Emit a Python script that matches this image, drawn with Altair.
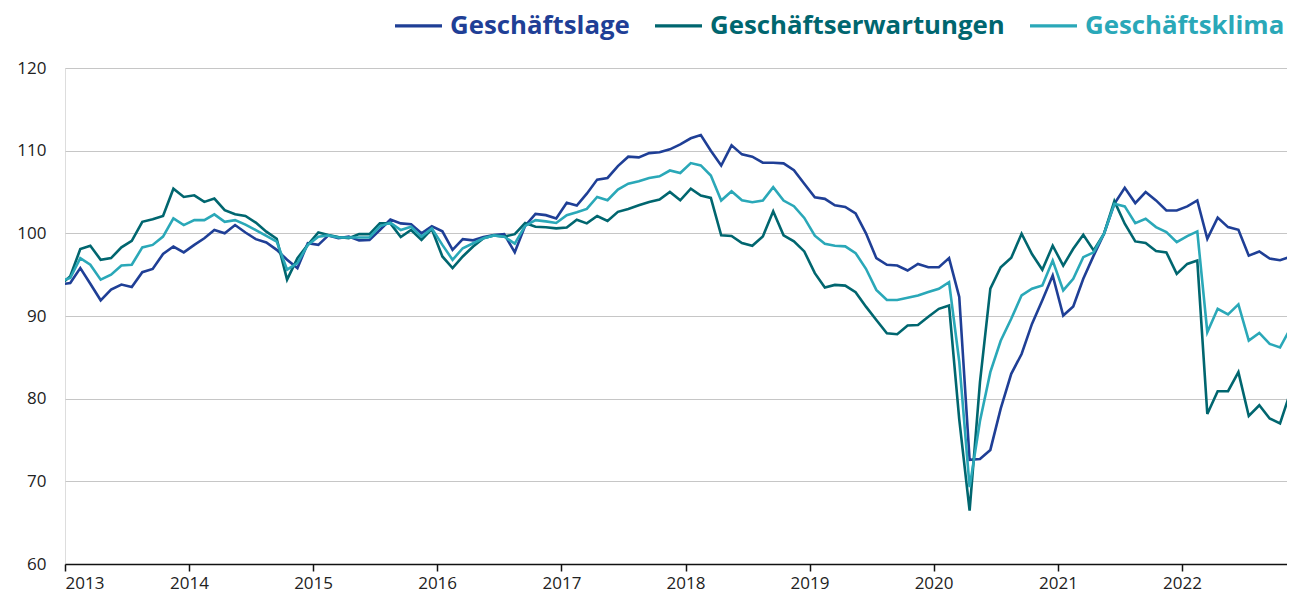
import altair as alt
import pandas as pd

# Monthly values, Dec 2012 .. Dec 2022 (mid-month positions)
lage = [93.8,
    94.0, 95.8, 93.9, 91.9, 93.2, 93.8, 93.5, 95.3, 95.7, 97.5, 98.4, 97.7,
    98.6, 99.4, 100.4, 100.0, 101.0, 100.1, 99.3, 98.9, 98.0, 96.8, 95.8, 98.8,
    98.6, 99.75, 99.4, 99.6, 99.15, 99.2, 100.4, 101.66, 101.2, 101.1, 100.0, 100.85,
    100.24, 98.0, 99.3, 99.15, 99.55, 99.8, 99.9, 97.7, 100.9, 102.35, 102.2, 101.8,
    103.7, 103.36, 104.8, 106.5, 106.7, 108.14, 109.27, 109.19, 109.7, 109.8, 110.16, 110.77,
    111.5, 111.9, 110.0, 108.2, 110.65, 109.55, 109.27, 108.54, 108.54, 108.46, 107.65, 105.99,
    104.37, 104.17, 103.4, 103.2, 102.4, 100.0, 97.0, 96.2, 96.1, 95.5, 96.3, 95.9,
    95.9, 97.0, 92.3, 72.6, 72.7, 73.8, 78.8, 83.0, 85.4, 89.05, 91.9, 94.9,
    90.06, 91.15, 94.5, 97.3, 99.95, 103.58, 105.5, 103.66, 104.99, 103.98, 102.77, 102.77,
    103.26, 103.98, 99.34, 101.9, 100.75, 100.43, 97.3, 97.8, 96.95, 96.75, 97.15, 97.5]

erwartungen = [93.7,
    94.8, 98.1, 98.5, 96.8, 97.0, 98.3, 99.1, 101.4, 101.7, 102.1, 105.4, 104.4,
    104.6, 103.8, 104.2, 102.8, 102.3, 102.1, 101.3, 100.2, 99.35, 94.4, 97.0, 98.6,
    100.1, 99.8, 99.55, 99.4, 99.9, 99.9, 101.2, 101.2, 99.55, 100.4, 99.2, 100.5,
    97.2, 95.8, 97.2, 98.4, 99.4, 99.75, 99.6, 99.9, 101.25, 100.8, 100.73, 100.6,
    100.7, 101.65, 101.2, 102.1, 101.5, 102.6, 102.95, 103.4, 103.8, 104.1, 105.0, 104.0,
    105.4, 104.57, 104.29, 99.76, 99.68, 98.82, 98.5, 99.63, 102.67, 99.76, 99.03, 97.81,
    95.18, 93.44, 93.76, 93.68, 92.87, 91.13, 89.51, 87.9, 87.8, 88.85, 88.9, 89.9,
    90.87, 91.27, 77.5, 66.45, 82.0, 93.3, 95.9, 97.04, 99.95, 97.5, 95.6, 98.5,
    96.1, 98.13, 99.83, 97.93, 99.95, 103.9, 101.16, 99.02, 98.82, 97.85, 97.7, 95.1,
    96.3, 96.7, 78.15, 80.9, 80.9, 83.2, 77.9, 79.2, 77.6, 77.0, 80.8, 84.0]

klima = [94.2,
    94.6, 97.0, 96.2, 94.4, 95.0, 96.1, 96.2, 98.3, 98.6, 99.6, 101.8, 101.0,
    101.6, 101.6, 102.3, 101.4, 101.6, 101.05, 100.4, 99.7, 99.0, 95.6, 96.4, 98.6,
    99.6, 99.75, 99.5, 99.5, 99.5, 99.5, 100.85, 101.3, 100.4, 100.8, 99.6, 100.6,
    98.6, 96.8, 98.2, 98.8, 99.4, 99.75, 99.6, 98.75, 100.9, 101.6, 101.45, 101.25,
    102.2, 102.55, 102.95, 104.4, 104.0, 105.3, 106.0, 106.3, 106.7, 106.9, 107.6, 107.3,
    108.5, 108.22, 107.0, 103.97, 105.1, 104.0, 103.76, 103.97, 105.59, 103.97, 103.28, 101.86,
    99.72, 98.74, 98.5, 98.42, 97.61, 95.71, 93.16, 91.94, 91.94, 92.2, 92.48, 92.9,
    93.3, 94.1, 84.5, 69.3, 77.3, 83.2, 87.0, 89.66, 92.5, 93.3, 93.7, 96.7,
    93.1, 94.5, 97.12, 97.7, 99.95, 103.58, 103.26, 101.24, 101.76, 100.75, 100.15, 98.94,
    99.67, 100.23, 88.04, 90.87, 90.18, 91.4, 87.03, 87.96, 86.63, 86.2, 88.5, 91.0]

series_names = ["Geschäftslage", "Geschäftserwartungen", "Geschäftsklima"]
series_colors = ["#1f3f96", "#00666f", "#2aa8b8"]
year_ticks = list(range(2013, 2023))
y_ticks = [60, 70, 80, 90, 100, 110, 120]

months = pd.date_range("2012-12-01", "2022-12-01", freq="MS")
mids = months + (months + pd.offsets.MonthBegin(1) - months) / 2
date_str = [d.strftime("%Y-%m-%dT%H:%M:%S") for d in mids]

rows = []
for name, vals in zip(series_names, [lage, erwartungen, klima]):
    for d, v in zip(date_str, vals):
        rows.append({"Datum": d, "Wert": v, "Reihe": name})
df = pd.DataFrame(rows)

plot_w, plot_h = 1222, 496
start = pd.Timestamp("2013-01-01")
px_per_day = 1117 / (pd.Timestamp("2022-01-01") - start).days
end = start + pd.Timedelta(days=plot_w / px_per_day)

label_expr = ""
for n, c in zip(series_names[:-1], series_colors[:-1]):
    label_expr += f"datum.label == '{n}' ? '{c}' : "
label_expr += f"'{series_colors[-1]}'"

chart = alt.Chart(df).mark_line(strokeWidth=2.6, clip=True).encode(
    x=alt.X("Datum:T",
            scale=alt.Scale(domain=[start.strftime("%Y-%m-%dT00:00:00"),
                                    end.strftime("%Y-%m-%dT%H:%M:%S")], nice=False),
            axis=alt.Axis(title=None, values=[alt.DateTime(year=y, month=1, date=1) for y in year_ticks],
                          format="%Y", grid=False, domainColor="#111", domainWidth=1.6,
                          tickColor="#111", tickWidth=1.5, tickSize=7, labelPadding=4,
                          labelFont="Open Sans", labelFontSize=17, labelColor="#222")),
    y=alt.Y("Wert:Q",
            scale=alt.Scale(domain=[60, 120], nice=False, zero=False),
            axis=alt.Axis(title=None, values=y_ticks, grid=True, gridColor="#c6c6c6",
                          gridWidth=1, domain=False, ticks=False, labelPadding=19,
                          minExtent=57, labelFont="Open Sans", labelFontSize=17,
                          labelColor="#222")),
    color=alt.Color("Reihe:N",
                    scale=alt.Scale(domain=series_names, range=series_colors),
                    legend=alt.Legend(title=None, orient="none", legendX=328, legendY=-68,
                                      direction="horizontal", symbolType="stroke",
                                      symbolSize=2209, symbolStrokeWidth=3.2,
                                      labelFont="Open Sans", labelFontSize=25.8,
                                      labelFontWeight="bold", labelOffset=6,
                                      labelLimit=600, columnPadding=18,
                                      labelColor=alt.ExprRef(label_expr))),
    order=alt.Order("Reihe:N", sort="descending"),
).properties(
    width=plot_w, height=plot_h,
    autosize=alt.AutoSizeParams(type="none"),
    padding={"left": 57, "top": 60, "right": 0, "bottom": 34},
).configure_view(stroke=None).configure(background="white")

chart.save("out.html", embed_options={"renderer": "svg", "actions": False})
